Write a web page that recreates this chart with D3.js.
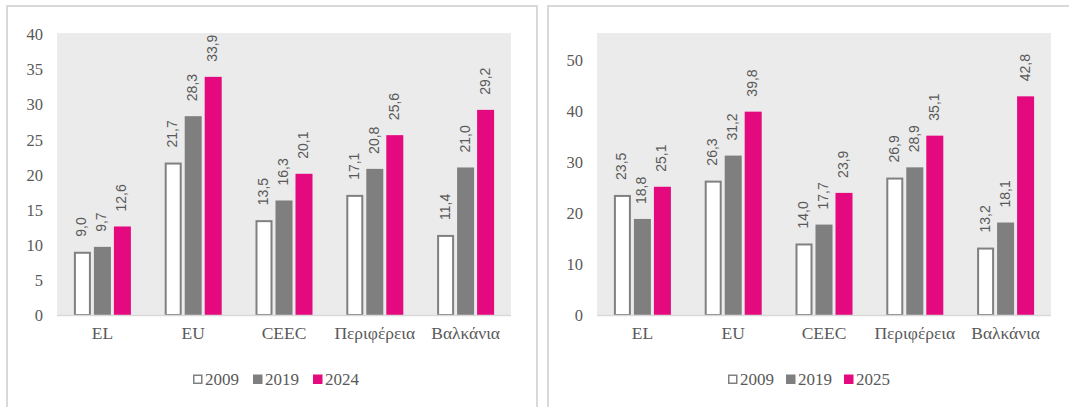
<!DOCTYPE html>
<html>
<head>
<meta charset="utf-8">
<script src="https://cdn.jsdelivr.net/npm/d3@7"></script>
<style>
  html, body { margin: 0; padding: 0; background: #ffffff; }
  svg { display: block; }
</style>
</head>
<body>
<svg id="chart" width="1069" height="407"></svg>
<script>
// ---- data ----
const categories = ["EL", "EU", "CEEC", "Περιφέρεια", "Βαλκάνια"];

const leftSeriesNames = ["2009", "2019", "2024"];
const left2009 = [9.0, 21.7, 13.5, 17.1, 11.4];
const left2019 = [9.7, 28.3, 16.3, 20.8, 21.0];
const left2024 = [12.6, 33.9, 20.1, 25.6, 29.2];
const leftTicks = [0, 5, 10, 15, 20, 25, 30, 35, 40];

const rightSeriesNames = ["2009", "2019", "2025"];
const right2009 = [23.5, 26.3, 14.0, 26.9, 13.2];
const right2019 = [18.8, 31.2, 17.7, 28.9, 18.1];
const right2025 = [25.1, 39.8, 23.9, 35.1, 42.8];
const rightTicks = [0, 10, 20, 30, 40, 50];

// ---- styles ----
const seriesFill = ["#ffffff", "#7f7f7f", "#e5097f"];
const seriesStroke = ["#808080", "none", "none"];
const textColor = "#595959";
const serif = "'Liberation Serif', 'DejaVu Serif', serif";
const sans = "'Liberation Sans', 'DejaVu Sans', sans-serif";

const svg = d3.select("#chart");
const fmt = v => d3.format(".1f")(v).replace(".", ",");

// panel borders
svg.append("path")
  .attr("d", "M7,410 L7,6 L537,6 L537,410")
  .attr("fill", "none").attr("stroke", "#d9d9d9").attr("stroke-width", 2);
svg.append("path")
  .attr("d", "M548,410 L548,6 L1075,6")
  .attr("fill", "none").attr("stroke", "#d9d9d9").attr("stroke-width", 2);

function drawPanel(cfg) {
  const g = svg.append("g");
  const x = d3.scaleBand().domain(categories).range([cfg.left, cfg.right]);
  const x1 = d3.scaleBand().domain(cfg.names).range([0, x.bandwidth()])
    .paddingInner(0.15).paddingOuter(0.845);
  const y = d3.scaleLinear().domain([0, cfg.max]).range([315, 34]);

  // plot background
  g.append("rect")
    .attr("x", cfg.left).attr("y", 33)
    .attr("width", cfg.right - cfg.left).attr("height", 315 - 33)
    .attr("fill", "#ebebeb");

  // y axis
  const ya = g.append("g")
    .attr("transform", `translate(${cfg.left - 14},0)`)
    .call(d3.axisLeft(y).tickValues(cfg.ticks).tickSize(0).tickPadding(0).tickFormat(d3.format("d")));
  ya.select(".domain").remove();
  ya.selectAll("text")
    .attr("fill", textColor).attr("font-family", serif).attr("font-size", 16.5)
    .attr("dy", "0.34em");

  // bars
  cfg.series.forEach((vals, si) => {
    const name = cfg.names[si];
    g.selectAll(null).data(vals).enter().append("rect")
      .attr("x", (d, i) => x(categories[i]) + x1(name) + (si === 0 ? 1 : 0))
      .attr("y", d => y(d) + (si === 0 ? 1 : 0))
      .attr("width", x1.bandwidth() - (si === 0 ? 2 : 0))
      .attr("height", d => 315 - y(d) - (si === 0 ? 1 : 0))
      .attr("fill", seriesFill[si])
      .attr("stroke", seriesStroke[si])
      .attr("stroke-width", 2);
    // data labels
    g.selectAll(null).data(vals).enter().append("text")
      .attr("transform", (d, i) => {
        const cx = x(categories[i]) + x1(name) + x1.bandwidth() / 2 - 1;
        return `translate(${cx},${y(d) - 15}) rotate(-90)`;
      })
      .attr("dy", "0.36em")
      .attr("text-anchor", "start")
      .attr("fill", textColor)
      .attr("font-family", sans)
      .attr("font-size", 14)
      .text(d => fmt(d));
  });

  // baseline
  g.append("line")
    .attr("x1", cfg.left).attr("x2", cfg.right)
    .attr("y1", 315.5).attr("y2", 315.5)
    .attr("stroke", "#d9d9d9").attr("stroke-width", 1.5);

  // x axis labels
  const xa = g.append("g")
    .attr("transform", "translate(0,327)")
    .call(d3.axisBottom(x).tickSize(0).tickPadding(0));
  xa.select(".domain").remove();
  xa.selectAll("text")
    .attr("fill", textColor).attr("font-family", serif).attr("font-size", 17.5)
    .attr("dy", "0.71em");

  // legend
  const lg = g.append("g");
  cfg.names.forEach((n, i) => {
    const lx = cfg.legendX + i * cfg.legendStep;
    lg.append("rect")
      .attr("x", lx + (i === 0 ? 0.75 : 0)).attr("y", 374.5 + (i === 0 ? 0.75 : 0))
      .attr("width", i === 0 ? 8 : 9.5).attr("height", i === 0 ? 8 : 9.5)
      .attr("fill", seriesFill[i])
      .attr("stroke", i === 0 ? "#808080" : "none")
      .attr("stroke-width", 1.5);
    lg.append("text")
      .attr("x", lx + 12).attr("y", 385)
      .attr("fill", textColor).attr("font-family", serif).attr("font-size", 17)
      .text(n);
  });
}

drawPanel({
  left: 57, right: 511, max: 40, ticks: leftTicks,
  names: leftSeriesNames, series: [left2009, left2019, left2024],
  legendX: 193, legendStep: 60
});
drawPanel({
  left: 597, right: 1051, max: 55, ticks: rightTicks,
  names: rightSeriesNames, series: [right2009, right2019, right2025],
  legendX: 728, legendStep: 58
});
</script>
</body>
</html>
